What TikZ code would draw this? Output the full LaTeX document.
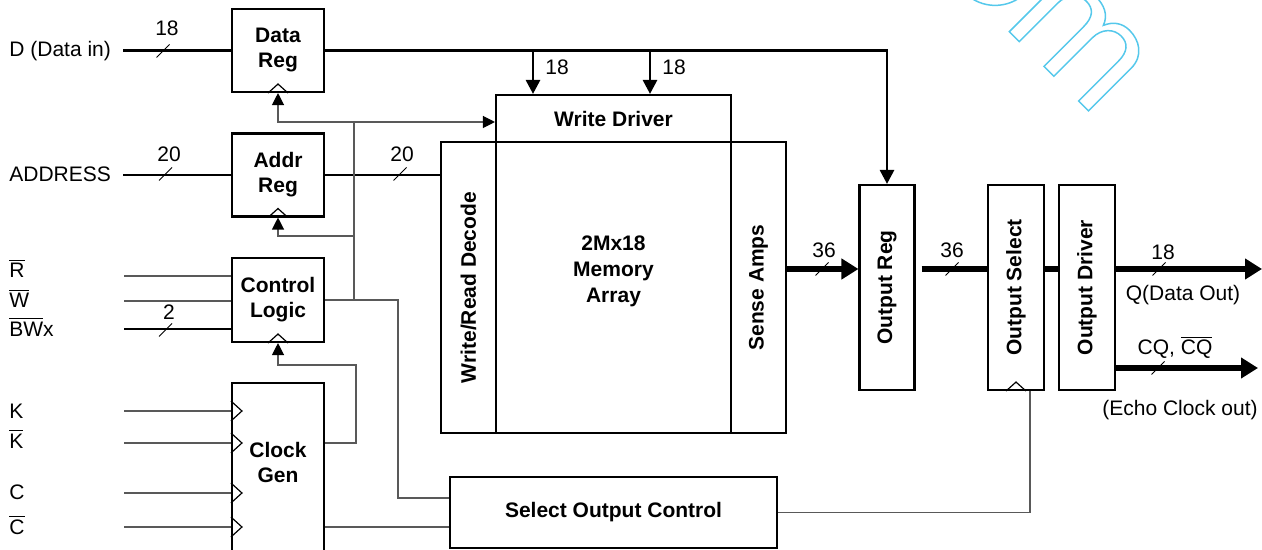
\documentclass[tikz,border=0pt]{standalone}
\usepackage{fontspec}
\setmainfont{Liberation Sans}
\usepackage{graphicx}
\usetikzlibrary{arrows.meta,calc,positioning,shapes.misc}

\newcommand{\ovl}[1]{$\overline{\hbox{#1}}$}
\definecolor{wire}{gray}{0.35}
\definecolor{wmark}{RGB}{85,200,235}

\begin{document}
\begin{tikzpicture}[
    x=0.5pt,
    y=-0.5pt,
    font=\fontsize{10.5}{12.5}\selectfont,
    blk/.style={draw, line width=1.05pt, align=center, inner sep=0pt, font=\fontsize{10.5}{12.5}\selectfont\bfseries},
    txt/.style={anchor=base west, inner sep=0pt},
    num/.style={anchor=base, inner sep=0pt},
    bus/.style={line width=1.4pt},
    busarr/.style={line width=1.4pt, -{Triangle[length=7pt, width=7pt]}},
    wbus/.style={line width=3pt},
    wbusarr/.style={line width=3pt, -{Triangle[length=8.5pt, width=10pt]}},
    sig/.style={draw=wire, line width=0.6pt},
    sigarr/.style={draw=wire, line width=0.6pt, -{Triangle[length=6pt, width=6pt, color=black]}},
    slash/.style={strike out, draw, line width=0.5pt, minimum size=6pt, inner sep=0pt},
    clk/.style={draw, line width=0.6pt}
]
\clip (0,0) rectangle (1262,550);

% blocks
\node[blk, minimum width=46pt, minimum height=41.5pt] (datareg) at (278,50.5) {Data\\Reg};
\node[blk, minimum width=46pt, minimum height=41.5pt] (addrreg) at (278,175) {Addr\\Reg};
\node[blk, minimum width=46pt, minimum height=42pt] (ctrl) at (278,300) {Control\\Logic};
\node[blk, minimum width=46pt, minimum height=95pt] (clkgen) at (278,478) {};
\node[blk, draw=none] (clktxt) at (278,462) {Clock\\Gen};
\node[blk, minimum width=117.5pt, minimum height=23.5pt] (wdrv) at (613.5,118.5) {Write Driver};
\node[blk, minimum width=27.5pt, minimum height=145.5pt] (dec) at (468.5,287.5) {\rotatebox{90}{Write/Read Decode}};
\node[blk, minimum width=117.5pt, minimum height=145.5pt] (mem) at (613.5,287.5) {};
\node[blk, draw=none, font=\fontsize{10.5}{13}\selectfont\bfseries] (memtxt) at (613.5,271) {2Mx18\\Memory\\Array};
\node[blk, minimum width=27.5pt, minimum height=145.5pt] (sense) at (758.5,287.5) {\rotatebox{90}{Sense Amps}};
\node[blk, minimum width=27.5pt, minimum height=102.5pt] (outreg) at (887,287.5) {\rotatebox{90}{Output Reg}};
\node[blk, minimum width=28pt, minimum height=102.5pt] (outsel) at (1016,287.5) {\rotatebox{90}{Output Select}};
\node[blk, minimum width=28pt, minimum height=102.5pt] (outdrv) at (1087,287.5) {\rotatebox{90}{Output Driver}};
\node[blk, minimum width=163.5pt, minimum height=35.5pt] (soc) at (613.5,512.5) {Select Output Control};

% pin labels
\node[txt] (ldin) at (9,57) {D (Data in)};
\node[txt] (laddr) at (9,182) {ADDRESS};
\node[txt] (lr) at (9,278) {\ovl{R}};
\node[txt] (lw) at (9,308) {\ovl{W}};
\node[txt] (lbw) at (9,336) {\ovl{BW}x};
\node[txt] (lk) at (9,418) {K};
\node[txt] (lkb) at (9,448) {\ovl{K}};
\node[txt] (lc) at (9,499) {C};
\node[txt] (lcb) at (9,534) {\ovl{C}};
\node[num] (lq) at (1183,300) {Q(Data Out)};
\node[num] (lcq) at (1175,355) {CQ, \ovl{CQ}};
\node[num] (lecho) at (1180,415) {(Echo Clock out)};

% bus widths
\node[num] at (167,36) {18};
\node[num] at (169,162) {20};
\node[num] at (402,162) {20};
\node[num] at (169,320) {2};
\node[num] at (557,75) {18};
\node[num] at (674,75) {18};
\node[num] at (824,258) {36};
\node[num] at (952,258) {36};
\node[num] at (1163,260) {18};

% connector ends
\coordinate (din) at (123,50.5);
\coordinate (ain) at (123,175);
\coordinate (rin) at (124,276);
\coordinate (win) at (124,301);
\coordinate (bwin) at (124,329);
\coordinate (kin) at (124,411);
\coordinate (kbin) at (124,443);
\coordinate (cin) at (124,493);
\coordinate (cbin) at (124,527);
\coordinate (dtap1) at (533,50.5);
\coordinate (dtap2) at (650,50.5);
\coordinate (ckbus) at (354,122);
\coordinate (ckaddr) at (354,236);
\coordinate (ckret) at (356,365);
\coordinate (socin) at (398,498);
\coordinate (dbus) at (0,269);
\coordinate (qout) at (1262,269);
\coordinate (cqout) at (1258,368);

% data and address
\draw[bus] (din) -- (datareg.west);
\draw[busarr] (datareg.east) -| (outreg.north);
\draw[busarr] (dtap1) -- (dtap1 |- wdrv.north);
\draw[busarr] (dtap2) -- (dtap2 |- wdrv.north);
\draw[bus] (ain) -- (addrreg.west);
\draw[bus] (addrreg.east) -- (addrreg.east -| dec.west);

% control inputs
\draw[sig] (rin) -- (rin -| ctrl.west);
\draw[sig] (win) -- (win -| ctrl.west);
\draw[bus] (bwin) -- (bwin -| ctrl.west);
\foreach \p in {kin,kbin,cin,cbin} {
  \draw[sig] (\p) -- (\p -| clkgen.west);
  \draw[clk] ($(\p -| clkgen.west)+(0,-10)$) -- ++(11,10) -- ++(-11,10);
}

% clocks
\draw[sig] (ctrl.east) -| (socin) -- (socin -| soc.west);
\draw[sig] (ctrl.east -| ckbus) -- (ckbus);
\draw[sigarr] (ckbus) -- (ckbus -| wdrv.west);
\draw[sigarr] (ckbus) -| (datareg.south);
\draw[sigarr] (ckaddr) -| (addrreg.south);
\draw[sigarr] (kbin -| clkgen.east) -| (ckret) -| (ctrl.south);
\draw[sig] (cbin -| clkgen.east) -- (cbin -| soc.west);
\draw[sig] (soc.east) -| ($(outsel.south)+(14,0)$);
\foreach \b in {datareg,addrreg,ctrl,outsel}
  \draw[clk] ($(\b.south)+(-10,0)$) -- ++(10,-9) -- ++(10,9);

% output path
\draw[wbusarr] (dbus -| sense.east) -- (dbus -| outreg.west);
\draw[wbus] ($(dbus -| outreg.east)+(6,0)$) -- (dbus -| outsel.west);
\draw[wbus] (dbus -| outsel.east) -- (dbus -| outdrv.west);
\draw[wbusarr] (dbus -| outdrv.east) -- (qout);
\draw[wbusarr] (cqout -| outdrv.east) -- (cqout);

% slashes
\node[slash] (sdin) at (163,51) {};
\node[slash] (saddr) at (165.5,174) {};
\node[slash] (sdec) at (400,174) {};
\node[slash] (sbw) at (165.5,330) {};
\node[slash] (ssense) at (822,269) {};
\node[slash] (sout) at (952,269) {};
\node[slash] (sq) at (1159,269) {};
\node[slash] (scq) at (1158,368) {};

% watermark
\begin{scope}[shift={(1009.3,31.7)}, x={(0.3536pt,-0.3536pt)}, y={(0.3536pt,0.3536pt)}, draw=wmark, line width=0.75pt]
\draw (0,0) -- (0,85) -- (14,85) -- (14,72)
  .. controls (20,82) and (26,86) .. (36,86)
  .. controls (48,86) and (58,82) .. (62,71)
  .. controls (66,80) and (73,86) .. (84,86)
  .. controls (98,86) and (112,78) .. (112,60)
  -- (112,0) -- (98,0) -- (98,56)
  .. controls (98,70) and (92,76) .. (82,76)
  .. controls (72,76) and (63,68) .. (63,54)
  -- (63,0) -- (49,0) -- (49,56)
  .. controls (49,70) and (43,76) .. (33,76)
  .. controls (23,76) and (14,68) .. (14,54)
  -- (14,0) -- cycle;
\draw (-59,39) circle[radius=43];
\draw (-59,39) circle[radius=29];
\end{scope}
\end{tikzpicture}
\end{document}
